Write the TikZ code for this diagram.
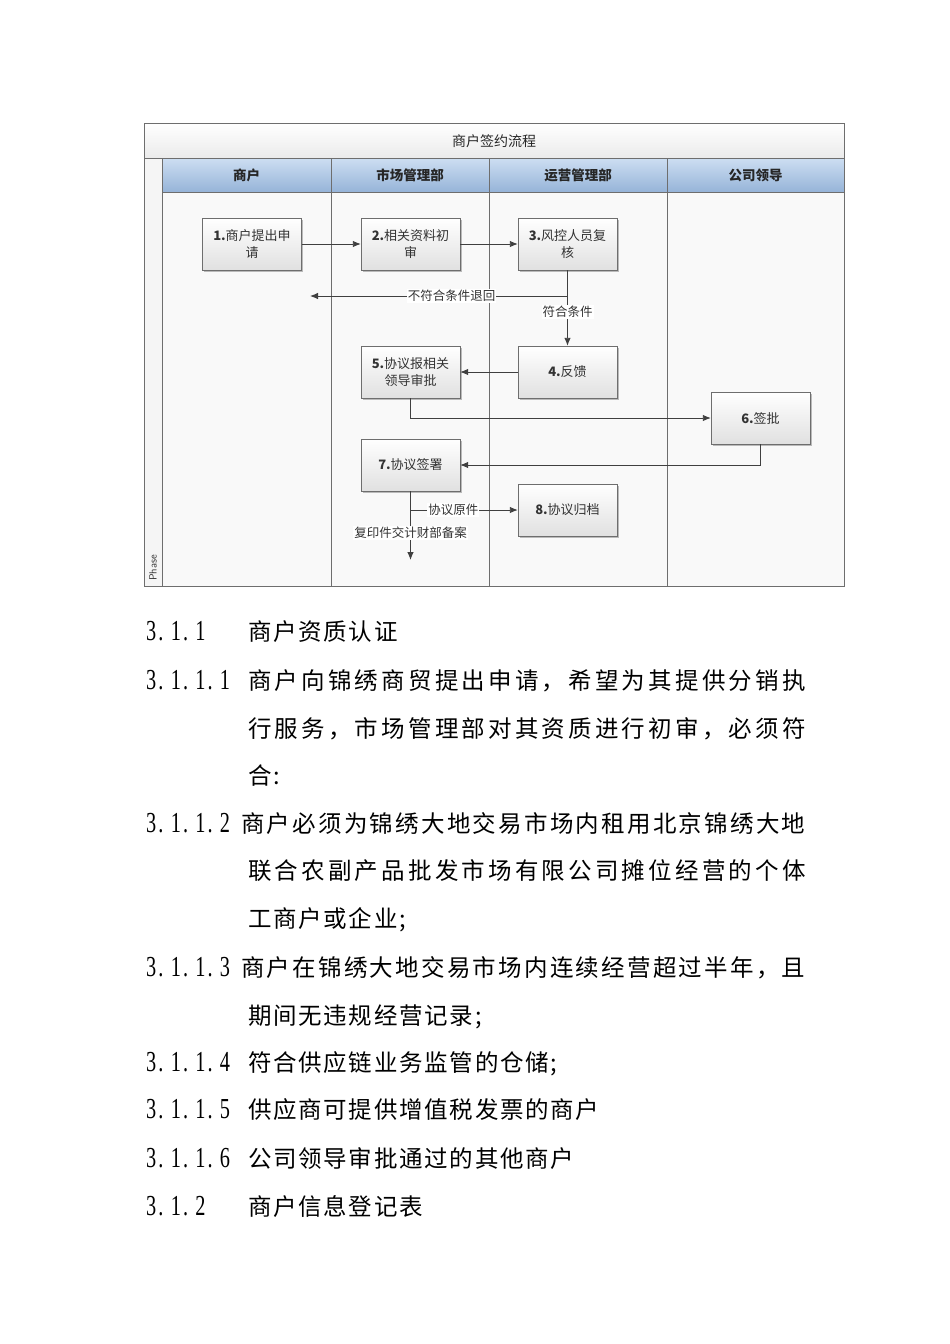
\documentclass[tikz,border=0pt]{standalone}
\usepackage{fontspec}
\setmainfont{Noto Sans CJK SC}
\newfontfamily\numfont[FakeStretch=0.7]{Liberation Serif}
\usetikzlibrary{arrows.meta,shadows}
\definecolor{hdrtop}{RGB}{205,222,242}
\definecolor{hdrbot}{RGB}{150,180,216}
\definecolor{lanebg}{RGB}{249,249,249}
\definecolor{edge}{RGB}{110,110,110}
\makeatletter
\newcommand\cl[2]{\@tfor\cc:=#2\do{\hbox to #1{\cc\hss}}}
\makeatother
\newcommand\nm[1]{{\numfont\fontsize{29}{29}\selectfont\cl{12.3pt}{#1}}}
\newcommand\tx[2]{{\fontsize{23.5}{23.5}\selectfont\cl{#1}{#2}}}
\tikzset{
  stepbox/.style={draw=edge, top color=white, bottom color=black!12, minimum width=99pt,
    minimum height=52pt, align=center, inner sep=2pt, text=black!80,
    font=\fontsize{13}{16.5}\selectfont,
    drop shadow={shadow xshift=1.5pt, shadow yshift=-1.5pt, opacity=0.25, fill=black}},
  arr/.style={-{Latex[length=8pt,width=6.5pt]}, draw=black!75, line width=0.9pt},
  lbl/.style={fill=white, inner sep=1pt, text=black!80, font=\fontsize{12.5}{14}\selectfont},
  hdr/.style={font=\bfseries\fontsize{13.5}{16}\selectfont, text=black!85},
  line/.style={anchor=base west, inner sep=0pt, text=black}
}
\begin{document}
\begin{tikzpicture}[x=1pt,y=-1pt]
\useasboundingbox (0,0) rectangle (950,1344);
\fill[white] (0,0) rectangle (950,1344);
% lanes background
\fill[lanebg] (162,192) rectangle (844,586);
\fill[black!4] (144,158) rectangle (162,586);
% title row
\shade[top color=white, bottom color=black!8] (144,123) rectangle (844,158);
\node[font=\fontsize{14}{16}\selectfont, text=black!85] (title) at (494,141) {商户签约流程};
% header row
\shade[top color=hdrtop, bottom color=hdrbot] (162,158) rectangle (844,192);
\draw[edge] (144,158) -- (844,158);
\draw[edge] (162,192) -- (844,192);
\draw[edge] (162,158) -- (162,586);
\foreach \x in {331,489,667} \draw[edge] (\x,158) -- (\x,586);
\draw[edge, line width=0.8pt] (144,123) rectangle (844,586);
\node[hdr] (h1) at (246.5,175) {商户};
\node[hdr] (h2) at (410,175) {市场管理部};
\node[hdr] (h3) at (578,175) {运营管理部};
\node[hdr] (h4) at (755.5,175) {公司领导};
\node[rotate=90, font=\sffamily\fontsize{10.5}{12}\selectfont, text=black!80] (phase) at (153,568) {Phase};
% boxes
\node[stepbox] (b1) at (252,244) {\textbf{1.}商户提出申\\请};
\node[stepbox] (b2) at (410.5,244) {\textbf{2.}相关资料初\\审};
\node[stepbox] (b3) at (567.5,244) {\textbf{3.}风控人员复\\核};
\node[stepbox] (b4) at (567.5,372) {\textbf{4.}反馈};
\node[stepbox] (b5) at (410.5,372) {\textbf{5.}协议报相关\\领导审批};
\node[stepbox] (b6) at (760.5,418) {\textbf{6.}签批};
\node[stepbox] (b7) at (410.5,465) {\textbf{7.}协议签署};
\node[stepbox] (b8) at (567.5,510) {\textbf{8.}协议归档};
% connectors
\coordinate (j1) at (567.5,296);
\coordinate (r1) at (310,296);
\coordinate (j2) at (410.5,510);
\coordinate (e7) at (410.5,560);
\draw[arr] (b1) -- (b2);
\draw[arr] (b2) -- (b3);
\draw[arr] (b3) -- (b4) node[lbl, pos=0.55] (l1) {符合条件};
\draw[arr] (j1) -- (r1) node[lbl, pos=0.45] (l2) {不符合条件退回};
\draw[arr] (b4) -- (b5);
\draw[arr] (b5.south) |- (b6.west);
\draw[arr] (b6.south) |- (b7.east);
\draw[arr] (b7.south) -- (e7) node[lbl, pos=0.61] (l3) {复印件交计财部备案};
\draw[arr] (j2) -- (b8.west) node[lbl, pos=0.4] (l4) {协议原件};
% text section
\node[line] (n1) at (146,640) {\nm{3.1.1}};
\node[line] (t1) at (248,640) {\tx{25.2pt}{商户资质认证}};
\node[line] (n2) at (146,689) {\nm{3.1.1.1}};
\node[line] (t2) at (248,689) {\tx{26.7pt}{商户向锦绣商贸提出申请，希望为其提供分销执}};
\node[line] (t3) at (248,737) {\tx{26.7pt}{行服务，市场管理部对其资质进行初审，必须符}};
\node[line] (t4) at (248,784) {\tx{25.2pt}{合:}};
\node[line] (n5) at (146,832) {\nm{3.1.1.2}};
\node[line] (t5) at (241,832) {\tx{25.75pt}{商户必须为锦绣大地交易市场内租用北京锦绣大地}};
\node[line] (t6) at (248,879) {\tx{26.7pt}{联合农副产品批发市场有限公司摊位经营的个体}};
\node[line] (t7) at (248,927) {\tx{25.2pt}{工商户或企业;}};
\node[line] (n8) at (146,976) {\nm{3.1.1.3}};
\node[line] (t8) at (241,976) {\tx{25.75pt}{商户在锦绣大地交易市场内连续经营超过半年，且}};
\node[line] (t9) at (248,1024) {\tx{25.2pt}{期间无违规经营记录;}};
\node[line] (n10) at (146,1071) {\nm{3.1.1.4}};
\node[line] (t10) at (248,1071) {\tx{25.2pt}{符合供应链业务监管的仓储;}};
\node[line] (n11) at (146,1118) {\nm{3.1.1.5}};
\node[line] (t11) at (248,1118) {\tx{25.2pt}{供应商可提供增值税发票的商户}};
\node[line] (n12) at (146,1167) {\nm{3.1.1.6}};
\node[line] (t12) at (248,1167) {\tx{25.2pt}{公司领导审批通过的其他商户}};
\node[line] (n13) at (146,1215) {\nm{3.1.2}};
\node[line] (t13) at (248,1215) {\tx{25.2pt}{商户信息登记表}};
\end{tikzpicture}
\end{document}
